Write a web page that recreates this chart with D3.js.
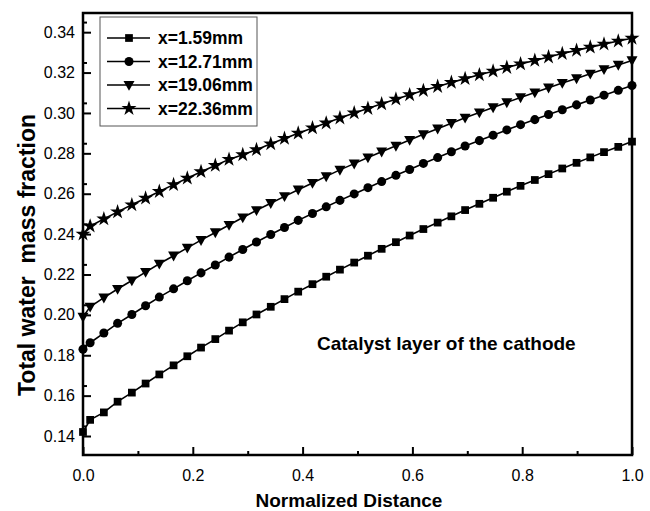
<!DOCTYPE html>
<html>
<head>
<meta charset="utf-8">
<script src="https://cdn.jsdelivr.net/npm/d3@7"></script>
<style>
  body { margin: 0; background: #fff; }
  svg text { font-family: "Liberation Sans", Arial, sans-serif; }
</style>
</head>
<body>
<div id="chart"></div>
<script>
// normalized distance of the sampled points
const distance = [0, 0.013, 0.038, 0.063, 0.089, 0.114, 0.139, 0.165, 0.190, 0.215,
  0.241, 0.266, 0.291, 0.316, 0.342, 0.367, 0.392, 0.418, 0.443, 0.468,
  0.494, 0.519, 0.544, 0.570, 0.595, 0.620, 0.646, 0.671, 0.696, 0.722,
  0.747, 0.772, 0.797, 0.823, 0.848, 0.873, 0.899, 0.924, 0.949, 0.975, 1.0];

const seriesNames = ["x=1.59mm", "x=12.71mm", "x=19.06mm", "x=22.36mm"];

const x159 = [0.142, 0.1480, 0.1517, 0.1570, 0.1615, 0.1660, 0.1705, 0.1750, 0.1795, 0.1838,
  0.1880, 0.1922, 0.1963, 0.2002, 0.2040, 0.2078, 0.2115, 0.2152, 0.2189, 0.2224,
  0.2259, 0.2293, 0.2327, 0.2360, 0.2393, 0.2425, 0.2457, 0.2488, 0.2519, 0.2550,
  0.2580, 0.2610, 0.2639, 0.2668, 0.2697, 0.2725, 0.2753, 0.2780, 0.2806, 0.2832, 0.2858];

const x1271 = [0.183, 0.1862, 0.1910, 0.1958, 0.2002, 0.2045, 0.2088, 0.2129, 0.2169, 0.2208,
  0.2247, 0.2286, 0.2324, 0.2361, 0.2398, 0.2433, 0.2468, 0.2502, 0.2535, 0.2567,
  0.2599, 0.2630, 0.2660, 0.2691, 0.2720, 0.2750, 0.2779, 0.2808, 0.2836, 0.2863,
  0.2890, 0.2916, 0.2942, 0.2967, 0.2992, 0.3016, 0.3040, 0.3064, 0.3088, 0.3112, 0.3136];

const x1906 = [0.199, 0.2040, 0.2085, 0.2128, 0.2170, 0.2212, 0.2253, 0.2293, 0.2332, 0.2370,
  0.2408, 0.2445, 0.2482, 0.2518, 0.2553, 0.2587, 0.2620, 0.2653, 0.2686, 0.2718,
  0.2749, 0.2779, 0.2808, 0.2837, 0.2866, 0.2894, 0.2922, 0.2949, 0.2976, 0.3002,
  0.3027, 0.3052, 0.3077, 0.3101, 0.3125, 0.3148, 0.3171, 0.3194, 0.3216, 0.3238, 0.3260];

const x2236 = [0.240, 0.2440, 0.2475, 0.2510, 0.2545, 0.2578, 0.2611, 0.2645, 0.2677, 0.2709,
  0.2740, 0.2770, 0.2793, 0.2818, 0.2847, 0.2874, 0.2900, 0.2926, 0.2950, 0.2975,
  0.3000, 0.3022, 0.3045, 0.3068, 0.3090, 0.3111, 0.3131, 0.3151, 0.3170, 0.3189,
  0.3207, 0.3225, 0.3243, 0.3260, 0.3277, 0.3294, 0.3310, 0.3326, 0.3341, 0.3356, 0.3370];

const xTicks = [0, 0.2, 0.4, 0.6, 0.8, 1.0];
const yTicks = [0.14, 0.16, 0.18, 0.20, 0.22, 0.24, 0.26, 0.28, 0.30, 0.32, 0.34];

const allSeries = [x159, x1271, x1906, x2236];
const symbols = [d3.symbolSquare, d3.symbolCircle, "triDown", d3.symbolStar];
const symbolSizes = [60, 64, 80, 70];

const width = 650, height = 511;
const margin = { top: 13, right: 18, bottom: 56, left: 83 };
const innerW = width - margin.left - margin.right;
const innerH = height - margin.top - margin.bottom;

const svg = d3.select("#chart").append("svg")
  .attr("width", width)
  .attr("height", height);

const g = svg.append("g")
  .attr("transform", `translate(${margin.left},${margin.top})`);

const x = d3.scaleLinear().domain([0, 1]).range([0, innerW]);
const y = d3.scaleLinear().domain([0.1306, 0.3495]).range([innerH, 0]);

// minor ticks
const xMinor = d3.range(0.1, 1, 0.2);
const yMinor = d3.range(0.135, 0.35, 0.01).filter((v) => Math.abs(Math.round(v * 100) % 2) === 1);

g.append("g")
  .attr("transform", `translate(0,${innerH})`)
  .call(d3.axisBottom(x).tickValues(xMinor).tickSize(-4).tickFormat(""))
  .call((s) => s.select(".domain").remove())
  .selectAll("line").attr("stroke-width", 2);

g.append("g")
  .call(d3.axisLeft(y).tickValues(yMinor).tickSize(-4).tickFormat(""))
  .call((s) => s.select(".domain").remove())
  .selectAll("line").attr("stroke-width", 2);

// major ticks
const xAxis = g.append("g")
  .attr("transform", `translate(0,${innerH})`)
  .call(d3.axisBottom(x).tickValues(xTicks).tickSize(-8).tickPadding(15).tickFormat(d3.format(".1f")));
xAxis.select(".domain").remove();
xAxis.selectAll("line").attr("stroke-width", 2);
xAxis.selectAll("text").style("font-size", "16px").attr("fill", "#000");

const yAxis = g.append("g")
  .call(d3.axisLeft(y).tickValues(yTicks).tickSize(-8).tickPadding(8).tickFormat(d3.format(".2f")));
yAxis.select(".domain").remove();
yAxis.selectAll("line").attr("stroke-width", 2);
yAxis.selectAll("text").style("font-size", "16px").attr("fill", "#000");

// frame
g.append("rect")
  .attr("width", innerW)
  .attr("height", innerH)
  .attr("fill", "none")
  .attr("stroke", "#000")
  .attr("stroke-width", 2.5);

function markerPath(i) {
  if (symbols[i] === "triDown") {
    const s = 5.5;
    return `M${-s},${-s * 0.75}L${s},${-s * 0.75}L0,${s * 1.05}Z`;
  }
  return d3.symbol().type(symbols[i]).size(symbolSizes[i])();
}

const line = d3.line()
  .x((d, i) => x(distance[i]))
  .y((d) => y(d));

allSeries.forEach((vals, si) => {
  g.append("path")
    .datum(vals)
    .attr("d", line)
    .attr("fill", "none")
    .attr("stroke", "#000")
    .attr("stroke-width", 1.6);

  g.selectAll(".m" + si)
    .data(vals)
    .enter()
    .append("path")
    .attr("class", "m" + si)
    .attr("d", markerPath(si))
    .attr("transform", (d, i) => `translate(${x(distance[i])},${y(d)})`)
    .attr("fill", "#000");
});

// legend
const legend = svg.append("g").attr("transform", "translate(100,17)");
legend.append("rect")
  .attr("width", 157)
  .attr("height", 109)
  .attr("fill", "#fff")
  .attr("stroke", "#555")
  .attr("stroke-width", 1);

seriesNames.forEach((name, i) => {
  const row = legend.append("g").attr("transform", `translate(0,${21 + i * 23.5})`);
  row.append("line")
    .attr("x1", 7).attr("x2", 50)
    .attr("stroke", "#000").attr("stroke-width", 1.6);
  row.append("path")
    .attr("d", markerPath(i))
    .attr("transform", "translate(29,0)")
    .attr("fill", "#000");
  row.append("text")
    .attr("x", 58)
    .attr("dy", "0.35em")
    .style("font-size", "17.5px")
    .style("font-weight", "bold")
    .text(name);
});

// annotation
svg.append("text")
  .attr("x", 317)
  .attr("y", 350)
  .style("font-size", "19px")
  .style("font-weight", "bold")
  .text("Catalyst layer of the cathode");

// axis titles
svg.append("text")
  .attr("x", 349)
  .attr("y", 507)
  .attr("text-anchor", "middle")
  .style("font-size", "19px")
  .style("font-weight", "bold")
  .text("Normalized Distance");

svg.append("text")
  .attr("transform", "translate(35,255) rotate(-90)")
  .attr("text-anchor", "middle")
  .style("font-size", "23px")
  .style("font-weight", "bold")
  .style("white-space", "pre")
  .text("Total water  mass fraction");
</script>
</body>
</html>
